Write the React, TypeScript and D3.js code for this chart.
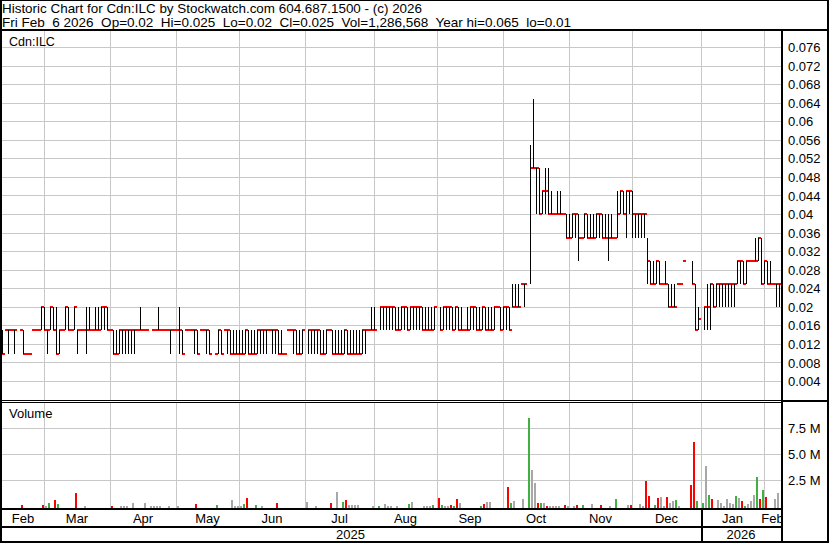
import React from 'react';
import * as d3 from 'd3';

// one entry per trading day: [high, low, close] in cents, volume in thousands of shares
type Day = [number, number, number, number];

const feb25: Day[] = [
  [1.5, 1, 1, 450], [1.5, 1.5, 1.5, 0], [1.5, 1, 1.5, 0], [1.5, 1.5, 1.5, 0], [1.5, 1, 1.5, 0],
  [1.5, 1.5, 1.5, 0], [1.5, 1, 1, 100], [1, 1, 1, 0], [1, 1, 1, 0], [1.5, 1.5, 1.5, 0],
  [1.5, 1.5, 1.5, 0], [1.5, 1.5, 1.5, 0], [2, 1.5, 2, 0], [2, 1.5, 1.5, 60],
];
const mar25: Day[] = [
  [1.5, 1, 1.5, 30], [2, 1.5, 2, 300], [2, 1.5, 1.5, 0], [2, 1, 1, 550], [1.5, 1, 1.5, 150],
  [1.5, 1.5, 1.5, 0], [2, 1.5, 2, 0], [2, 1.5, 1.5, 0], [1.5, 1.5, 1.5, 0], [2, 1.5, 2, 0],
  [1.5, 1, 1.5, 1300], [1.5, 1.5, 1.5, 0], [1.5, 1.5, 1.5, 0], [2, 1, 1.5, 30], [2, 1.5, 1.5, 0],
  [1.5, 1.5, 1.5, 0], [2, 1.5, 1.5, 0], [2, 1.5, 1.5, 0], [2, 1.5, 2, 0], [2, 1.5, 2, 0],
  [2, 1.5, 1.5, 0],
];
const apr25: Day[] = [
  [1.5, 1.5, 1.5, 0], [1.5, 1, 1, 30], [1.5, 1, 1, 0], [1.5, 1, 1.5, 0], [1.5, 1, 1.5, 30],
  [1.5, 1, 1.5, 30], [1.5, 1, 1.5, 30], [1.5, 1, 1.5, 0], [1.5, 1, 1.5, 300], [1.5, 1.5, 1.5, 0],
  [2, 1.5, 1.5, 0], [1.5, 1.5, 1.5, 0], [1.5, 1.5, 1.5, 300], [1.5, 1.5, 1.5, 30], [1.5, 1.5, 1.5, 30],
  [2, 1.5, 1.5, 30], [1.5, 1.5, 1.5, 30], [1.5, 1.5, 1.5, 0], [1.5, 1.5, 1.5, 0], [1.5, 1, 1.5, 30],
  [1.5, 1.5, 1.5, 0],
];
const may25: Day[] = [
  [1.5, 1.5, 1.5, 0], [2, 1, 1.5, 30], [1.5, 1, 1, 0], [1.5, 1.5, 1.5, 0], [1.5, 1.5, 1.5, 0],
  [1.5, 1.5, 1.5, 0], [1.5, 1, 1.5, 0], [1.5, 1, 1, 200], [1.5, 1.5, 1.5, 0], [1.5, 1.5, 1.5, 0],
  [1.5, 1, 1.5, 0], [1.5, 1, 1, 0], [1, 1, 1, 0], [1.5, 1, 1.5, 50], [1.5, 1, 1, 0],
  [1.5, 1.5, 1.5, 0], [1.5, 1, 1.5, 0], [1.5, 1, 1, 0], [1.5, 1, 1, 600], [1.5, 1, 1, 30],
  [1.5, 1, 1, 30],
];
const jun25: Day[] = [
  [1.5, 1, 1, 30], [1.5, 1, 1.5, 150], [1.5, 1, 1, 750], [1.5, 1, 1, 0], [1.5, 1, 1, 0],
  [1.5, 1, 1.5, 50], [1.5, 1, 1.5, 0], [1.5, 1, 1.5, 30], [1.5, 1, 1.5, 0], [1.5, 1.5, 1.5, 0],
  [1.5, 1, 1.5, 0], [1.5, 1, 1.5, 0], [1.5, 1, 1, 300], [1.5, 1, 1, 0], [1, 1, 1, 0],
  [1.5, 1.5, 1.5, 0], [1.5, 1.5, 1.5, 0], [1.5, 1, 1.5, 0], [1.5, 1, 1, 0], [1.5, 1, 1, 0],
  [1.5, 1, 1.5, 0],
];
const jul25: Day[] = [
  [1.5, 1, 1.5, 400], [1.5, 1, 1.5, 0], [1.5, 1, 1.5, 0], [1.5, 1, 1.5, 30], [1.5, 1, 1, 0],
  [1.5, 1, 1, 0], [1.5, 1, 1.5, 0], [1.5, 1.5, 1.5, 0], [1.5, 1, 1, 300], [1.5, 1, 1, 0],
  [1.5, 1, 1, 1400], [1.5, 1, 1, 0], [1.5, 1, 1.5, 400], [1.5, 1, 1, 600], [1.5, 1, 1, 50],
  [1.5, 1, 1, 50], [1.5, 1, 1, 50], [1.5, 1, 1, 50], [1.5, 1, 1.5, 0], [1.5, 1, 1.5, 0],
  [1.5, 1.5, 1.5, 0], [2, 1.5, 1.5, 0],
];
const aug25: Day[] = [
  [2, 1.5, 1.5, 30], [2, 1.5, 2, 30], [2, 1.5, 2, 0], [2, 1.5, 2, 150], [2, 1.5, 2, 30],
  [2, 1.5, 2, 30], [2, 1.5, 1.5, 0], [2, 1.5, 1.5, 30], [2, 1.5, 2, 0], [2, 1.5, 2, 0],
  [2, 1.5, 1.5, 0], [2, 1.5, 2, 200], [2, 1.5, 2, 400], [2, 1.5, 2, 0], [2, 1.5, 2, 0],
  [2, 1.5, 1.5, 0], [2, 1.5, 1.5, 30], [2, 1.5, 1.5, 30], [2, 1.5, 1.5, 30], [2, 1.5, 2, 50],
];
const sep25: Day[] = [
  [2, 1.5, 1.5, 800], [2, 1.5, 2, 50], [2, 1.5, 2, 30], [2, 1.5, 2, 30], [2, 1.5, 1.5, 50],
  [2, 1.5, 2, 30], [2, 1.5, 1.5, 700], [2, 1.5, 1.5, 300], [1.5, 1.5, 1.5, 0], [2, 1.5, 1.5, 0],
  [2, 1.5, 2, 0], [2, 1.5, 2, 0], [2, 1.5, 1.5, 0], [2, 1.5, 1.5, 0], [2, 1.5, 2, 30],
  [2, 1.5, 1.5, 200], [2, 1.5, 1.5, 400], [2, 1.5, 1.5, 400], [2, 1.5, 2, 0], [2, 2, 2, 0],
  [2, 1.5, 1.5, 0],
];
const oct25: Day[] = [
  [2, 1.5, 2, 0], [2, 1.5, 2, 0], [2, 1.5, 1.5, 1850], [2.5, 2, 2, 300], [2.5, 2, 2, 500],
  [2.5, 2, 2, 0], [2.5, 2.5, 2.5, 0], [2.5, 2, 2.5, 700], [5.5, 2.5, 5, 8550], [6.5, 5, 5, 3500],
  [5, 4, 5, 2200], [5, 4, 4, 300], [4.5, 4, 4.5, 300], [5, 4, 4.5, 300], [5, 4, 4, 30],
  [4.5, 4, 4, 30], [4, 4, 4, 30], [4.5, 4, 4, 30], [4.5, 4, 4, 30], [4, 4, 4, 0],
  [4, 3.5, 3.5, 100], [4, 3.5, 3.5, 30],
];
const nov25: Day[] = [
  [4, 3.5, 4, 0], [4, 3.5, 4, 30], [4, 3, 3.5, 100], [3.5, 3.5, 3.5, 0], [4, 3.5, 4, 50],
  [4, 3.5, 3.5, 0], [4, 3.5, 3.5, 0], [4, 3.5, 3.5, 150], [4, 3.5, 4, 0], [4, 3.5, 4, 0],
  [4, 3.5, 3.5, 50], [4, 3.5, 3.5, 0], [4, 3, 3.5, 0], [4, 3.5, 3.5, 30], [3.5, 3.5, 3.5, 0],
  [4.5, 3.5, 4, 650], [4.5, 4, 4.5, 0], [4.5, 4, 4, 0], [4.5, 3.5, 4.5, 0], [4.5, 4, 4.5, 100],
];
const dec25: Day[] = [
  [4.5, 3.5, 4, 50], [4, 3.5, 4, 0], [4, 3.5, 4, 0], [4, 3.5, 4, 200], [4, 3.5, 4, 30],
  [3.5, 2.5, 3, 2450], [3, 2.5, 2.5, 1000], [3, 2.5, 2.5, 0], [3, 2.5, 3, 50], [3, 2.5, 2.5, 750],
  [2.5, 2.5, 2.5, 900], [3, 2.5, 2.5, 30], [2.5, 2, 2, 900], [2.5, 2, 2, 300], [2.5, 2, 2, 500],
  [2.5, 2.5, 2.5, 600], [2.5, 2.5, 2.5, 30], [3, 3, 3, 0], [3, 2.5, 2.5, 2000], [2.5, 1.5, 1.5, 6200],
  [2, 1.5, 1.75, 500],
];
const jan26: Day[] = [
  [2, 1.5, 2, 300], [2.5, 1.5, 2, 3900], [2.5, 1.5, 2.5, 1100], [2.5, 2, 2, 700], [2.5, 2, 2.5, 0],
  [2.5, 2, 2.5, 600], [2.5, 2, 2.5, 300], [2.5, 2, 2.5, 30], [2.5, 2, 2.5, 700], [2.5, 2, 2.5, 300],
  [2.5, 2, 2.5, 200], [3, 2.5, 3, 1000], [3, 2.5, 3, 750], [3, 2.5, 2.5, 500], [3, 2.5, 3, 30],
  [3, 3, 3, 200], [3, 3, 3, 500], [3.5, 3, 3, 1100], [3.5, 3, 3.5, 2800], [3.5, 2.5, 2.5, 650],
  [3, 2.5, 3, 1600],
];
const feb26: Day[] = [
  [3, 2.5, 2.5, 900], [3, 2.5, 2.5, 0], [2.5, 2.5, 2.5, 0], [2.5, 2, 2.5, 700], [2.5, 2, 2.5, 1287],
];

const holidays = [
  '2025-02-17', '2025-04-18', '2025-05-19', '2025-07-01', '2025-08-04',
  '2025-09-01', '2025-10-13', '2025-12-25', '2025-12-26', '2026-01-01',
];

const priceTicks = [
  0.004, 0.008, 0.012, 0.016, 0.02, 0.024, 0.028, 0.032, 0.036, 0.04,
  0.044, 0.048, 0.052, 0.056, 0.06, 0.064, 0.068, 0.072, 0.076,
];
const volTicks = [2.5e6, 5e6, 7.5e6];
const volTickLabels = ['2.5 M', '5.0 M', '7.5 M'];
const monthLabels = ['Feb', 'Mar', 'Apr', 'May', 'Jun', 'Jul', 'Aug', 'Sep', 'Oct', 'Nov', 'Dec', 'Jan', 'Feb'];
const yearLabels = ['2025', '2026'];

const title = 'Historic Chart for Cdn:ILC by Stockwatch.com 604.687.1500 - (c) 2026';
const quote = 'Fri Feb  6 2026  Op=0.02  Hi=0.025  Lo=0.02  Cl=0.025  Vol=1,286,568  Year hi=0.065  lo=0.01';

const FONT = '"Liberation Sans", Arial, sans-serif';
const GRID = '#c8c8c8';
const UP = '#40b040';
const DOWN = '#ff0000';
const FLAT = '#a8a8a8';

export default function App() {
  const W = 830;
  const H = 543;
  const plotRight = 781;

  const fmt = d3.timeFormat('%Y-%m-%d');
  const weekdays = d3.timeDay
    .range(new Date(2025, 1, 10), new Date(2026, 1, 7))
    .filter(d => d.getDay() % 6 !== 0);
  const n = weekdays.length;
  const x = d3.scaleLinear().domain([0, n - 1]).range([779 - 3 * (n - 1), 779]);

  const tradeIdx = weekdays
    .map((d, i) => ({ d, i }))
    .filter(o => !holidays.includes(fmt(o.d)))
    .map(o => o.i);

  const days = [feb25, mar25, apr25, may25, jun25, jul25, aug25, sep25, oct25, nov25, dec25, jan26, feb26].flat();
  const bars = days.map((d, k) => ({
    i: tradeIdx[k],
    high: d[0] / 100,
    low: d[1] / 100,
    close: d[2] / 100,
    vol: d[3] * 1000,
    prev: k > 0 ? days[k - 1][2] / 100 : d[2] / 100,
  }));

  const yP = d3.scaleLinear().domain([0, 0.076]).range([400, 47.5]);
  const yV = d3.scaleLinear().domain([0, 1e7]).range([506, 403]);

  const bis = d3.bisector((d: Date) => d).right;
  const monthStarts = d3.timeMonth.range(new Date(2025, 2, 1), new Date(2026, 1, 2));
  const gridX = monthStarts.map(m => x(bis(weekdays, m) - 1));
  const bounds = [x(0), ...gridX, plotRight];
  const yearX = x(bis(weekdays, new Date(2026, 0, 1)) - 1);
  const yearBounds = [0, yearX, plotRight];

  const snap = (v: number) => Math.floor(v) + 0.5;

  return (
    <div style={{ position: 'absolute', left: 0, top: 0 }}>
      <svg width={W} height={H} style={{ display: 'block', background: '#fff' }} fontFamily={FONT}>
        <defs>
          <clipPath id="pclip"><rect x={2} y={31} width={plotRight - 2} height={369} /></clipPath>
          <clipPath id="vclip"><rect x={2} y={403} width={plotRight - 2} height={105} /></clipPath>
          <clipPath id="dclip"><rect x={2} y={510} width={plotRight - 2} height={16} /></clipPath>
        </defs>
        <rect width={W} height={H} fill="#fff" />

        <g shapeRendering="crispEdges" stroke={GRID}>
          {gridX.map((gx, k) => (
            <g key={k}>
              <line x1={gx + 0.5} x2={gx + 0.5} y1={31} y2={400} />
              <line x1={gx + 0.5} x2={gx + 0.5} y1={403} y2={508} />
            </g>
          ))}
          {priceTicks.map(t => (
            <line key={t} x1={2} x2={plotRight} y1={snap(yP(t))} y2={snap(yP(t))} />
          ))}
          {volTicks.map(t => (
            <line key={t} x1={2} x2={plotRight} y1={snap(yV(t))} y2={snap(yV(t))} />
          ))}
        </g>

        <g clipPath="url(#pclip)" shapeRendering="crispEdges">
          {bars.map((b, k) => (
            <rect key={'c' + k} x={x(b.i)} y={yP(b.close) - 1} width={3} height={2} fill={DOWN} />
          ))}
          {bars.filter(b => b.high > b.low).map((b, k) => (
            <rect key={'h' + k} x={x(b.i)} y={yP(b.high)} width={1} height={yP(b.low) - yP(b.high)} fill="#000" />
          ))}
        </g>

        <g clipPath="url(#vclip)" shapeRendering="crispEdges">
          {bars.filter(b => b.vol > 0).map((b, k) => (
            <rect
              key={k}
              x={x(b.i) - 2}
              y={yV(b.vol)}
              width={2}
              height={508 - yV(b.vol)}
              fill={b.close > b.prev ? UP : b.close < b.prev ? DOWN : FLAT}
            />
          ))}
        </g>

        {/* frame */}
        <g shapeRendering="crispEdges" fill="#000">
          <rect x={0} y={0} width={829} height={1} />
          <rect x={0} y={0} width={2} height={H} />
          <rect x={827} y={0} width={2} height={H} />
          <rect x={0} y={29} width={829} height={2} />
          <rect x={plotRight} y={31} width={2} height={510} />
          <rect x={0} y={400} width={plotRight} height={1} />
          <rect x={0} y={402} width={plotRight} height={1} />
          <rect x={plotRight} y={400} width={46} height={2} />
          <rect x={0} y={508} width={plotRight} height={2} />
          <rect x={0} y={526} width={plotRight} height={2} />
          <rect x={0} y={541} width={829} height={2} />
          <rect x={yearX} y={510} width={2} height={31} />
        </g>

        <g fontSize={13} fill="#000">
          <text x={2} y={12.5} xmlSpace="preserve" textLength={420} lengthAdjust="spacingAndGlyphs">{title}</text>
          <text x={2} y={26.5} xmlSpace="preserve" textLength={569} lengthAdjust="spacingAndGlyphs">{quote}</text>
          <text x={9} y={46} fontSize={12.5}>Cdn:ILC</text>
          <text x={9} y={418}>Volume</text>
          {priceTicks.map(t => (
            <text key={t} x={788} y={yP(t)} dy="0.36em">{d3.format('~g')(t)}</text>
          ))}
          {volTicks.map((t, k) => (
            <text key={t} x={788} y={yV(t)} dy="0.36em">{volTickLabels[k]}</text>
          ))}
          <g clipPath="url(#dclip)" textAnchor="middle">
            {monthLabels.map((m, k) => (
              <text key={k} x={(bounds[k] + bounds[k + 1]) / 2} y={522.5}>{m}</text>
            ))}
          </g>
          {yearLabels.map((yl, k) => (
            <text key={yl} x={(yearBounds[k] + yearBounds[k + 1]) / 2} y={539} textAnchor="middle">{yl}</text>
          ))}
        </g>
      </svg>
    </div>
  );
}
